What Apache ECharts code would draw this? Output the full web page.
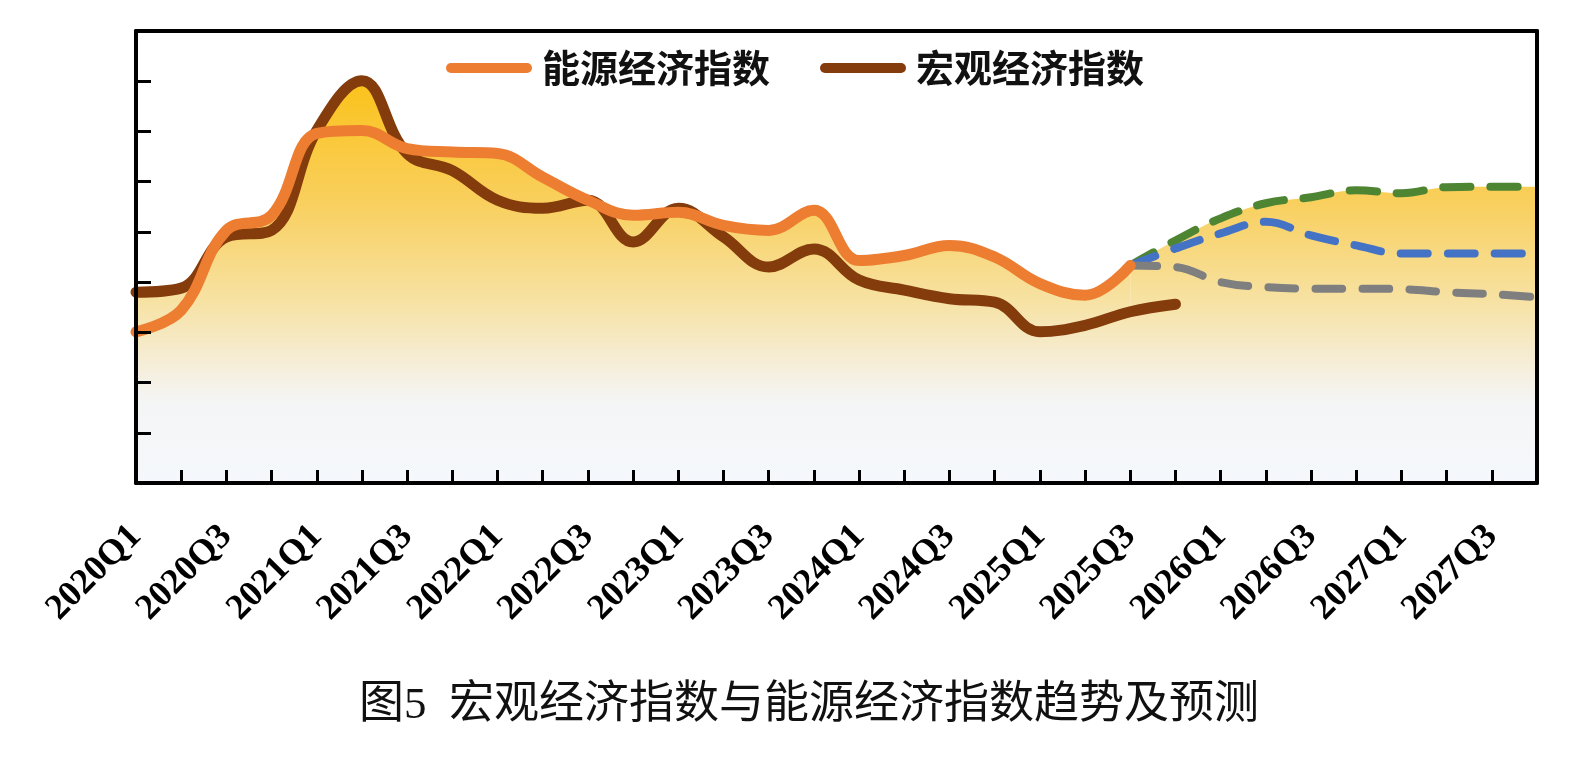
<!DOCTYPE html>
<html>
<head>
<meta charset="utf-8">
<script src="https://cdn.jsdelivr.net/npm/echarts@6/dist/echarts.min.js"></script>
<style>
    html, body { margin: 0; padding: 0; background: #fff; }
    #chart { width: 1582px; height: 773px; }
</style>
</head>
<body>
<div id="chart"></div>
<script>
// quarters on the x axis
const quarters = [
    '2020Q1', '2020Q2', '2020Q3', '2020Q4',
    '2021Q1', '2021Q2', '2021Q3', '2021Q4',
    '2022Q1', '2022Q2', '2022Q3', '2022Q4',
    '2023Q1', '2023Q2', '2023Q3', '2023Q4',
    '2024Q1', '2024Q2', '2024Q3', '2024Q4',
    '2025Q1', '2025Q2', '2025Q3', '2025Q4',
    '2026Q1', '2026Q2', '2026Q3', '2026Q4',
    '2027Q1', '2027Q2', '2027Q3', '2027Q4'
];

// 能源经济指数 (history, ends 2025Q3)
const energyIndex = [
    30.1, 34.4, 50.3, 53.3, 69.6, 70.2, 66.6, 65.9,
    65.6, 60.9, 56.3, 53.3, 53.9, 51.3, 50.3, 54.3,
    44.3, 45.3, 47.3, 45.0, 39.7, 37.4, 43.3, null,
    null, null, null, null, null, null, null, null
];

// 宏观经济指数 (history, ends 2025Q4)
const macroIndex = [
    38.0, 38.8, 49.0, 50.3, 70.2, 80.1, 65.6, 62.2,
    56.3, 54.7, 56.3, 48.0, 54.7, 49.0, 43.0, 46.6,
    40.4, 38.4, 36.7, 36.0, 30.1, 31.4, 34.1, 35.6,
    null, null, null, null, null, null, null, null
];

// forecast paths, starting from 2025Q3
const forecastHigh = [
    null, null, null, null, null, null, null, null,
    null, null, null, null, null, null, null, null,
    null, null, null, null, null, null, 43.3, 48.3,
    52.7, 55.7, 56.9, 58.3, 57.7, 58.9, 59.0, 59.0
];
const forecastBase = [
    null, null, null, null, null, null, null, null,
    null, null, null, null, null, null, null, null,
    null, null, null, null, null, null, 43.3, 46.7,
    49.7, 52.0, 49.3, 47.3, 45.7, 45.7, 45.7, 45.7
];
const forecastLow = [
    null, null, null, null, null, null, null, null,
    null, null, null, null, null, null, null, null,
    null, null, null, null, null, null, 43.3, 43.0,
    40.0, 39.0, 38.7, 38.7, 38.6, 38.0, 37.6, 37.0
];

const legendNames = ['能源经济指数', '宏观经济指数'];
const titleText = '图5  宏观经济指数与能源经济指数趋势及预测';

(() => {
    const chart = echarts.init(document.getElementById('chart'));

    // one gradient in page pixels, shared by every filled area so they merge
    const fillGradient = {
        type: 'linear', x: 0, y: 78, x2: 0, y2: 483, global: true,
        colorStops: [
            { offset: 0, color: '#FBC219' },
            { offset: 0.3, color: '#F9CF5C' },
            { offset: 0.55, color: '#F7E2A3' },
            { offset: 0.7, color: '#F5EDD6' },
            { offset: 0.8, color: '#F4F5F5' },
            { offset: 1, color: '#F5F8FC' }
        ]
    };
    const smooth = 0.4;
    const serif = '"Liberation Serif", "Times New Roman", serif';

    function fillSeries(name, data) {
        return {
            name: name, type: 'line', data: data, smooth: smooth,
            symbol: 'none', silent: true, z: 1,
            lineStyle: { width: 0 },
            areaStyle: { color: fillGradient, opacity: 1 }
        };
    }

    function lineSeries(name, data, color, width, dashed) {
        return {
            name: name, type: 'line', data: data, smooth: smooth,
            symbol: 'none', z: 3,
            lineStyle: {
                color: color, width: width, cap: 'round', join: 'round',
                type: dashed ? [27, 20] : 'solid'
            },
            itemStyle: { color: color }
        };
    }

    const frameLine = { onZero: false, lineStyle: { color: '#000', width: 4 } };

    const option = {
        animation: false,
        backgroundColor: '#fff',
        title: {
            text: titleText,
            left: 354, top: 679,
            textStyle: {
                fontFamily: serif + ', "Noto Sans CJK SC"',
                fontSize: 45, fontWeight: 'normal', color: '#111'
            }
        },
        legend: {
            data: legendNames,
            left: 441, top: 44,
            itemWidth: 86, itemHeight: 11, itemGap: 50,
            icon: 'path://M5,0 H81 A5,5 0 0 1 81,10 H5 A5,5 0 0 1 5,0 Z',
            textStyle: {
                fontFamily: '"Noto Sans CJK SC"', fontSize: 38,
                fontWeight: 'bold', color: '#111', padding: [0, 0, 0, 5]
            }
        },
        grid: { left: 136, right: 45, top: 31, bottom: 290 },
        xAxis: [{
            type: 'category', data: quarters, boundaryGap: false, z: 10,
            axisLine: frameLine,
            axisTick: { inside: true, length: 13, interval: 0, lineStyle: { color: '#000', width: 3 } },
            axisLabel: {
                interval: 1, rotate: 45, margin: 48,
                fontFamily: serif, fontWeight: 'bold',
                fontSize: 36, color: '#000'
            },
            splitLine: { show: false }
        }, {
            type: 'category', data: quarters, boundaryGap: false, position: 'top', z: 10,
            axisLine: frameLine,
            axisTick: { show: false }, axisLabel: { show: false }, splitLine: { show: false }
        }],
        yAxis: [{
            type: 'value', min: 0, max: 90, interval: 10, z: 10,
            axisLine: Object.assign({ show: true }, frameLine),
            axisTick: { show: true, inside: true, length: 15, lineStyle: { color: '#000', width: 3 } },
            axisLabel: { show: false },
            splitLine: { show: false }
        }, {
            type: 'value', min: 0, max: 90, interval: 10, position: 'right', z: 10,
            axisLine: Object.assign({ show: true }, frameLine),
            axisTick: { show: false }, axisLabel: { show: false }, splitLine: { show: false }
        }],
        series: [
            fillSeries('fill-energy', energyIndex),
            fillSeries('fill-macro', macroIndex),
            fillSeries('fill-high', forecastHigh),
            lineSeries('乐观预测', forecastHigh, '#4E8533', 8, true),
            lineSeries('基准预测', forecastBase, '#4472C4', 8, true),
            lineSeries('悲观预测', forecastLow, '#7F7F7F', 8, true),
            lineSeries(legendNames[1], macroIndex, '#843C0C', 11, false),
            lineSeries(legendNames[0], energyIndex, '#ED7D31', 11, false)
        ]
    };

    chart.setOption(option);
})();
</script>
</body>
</html>
